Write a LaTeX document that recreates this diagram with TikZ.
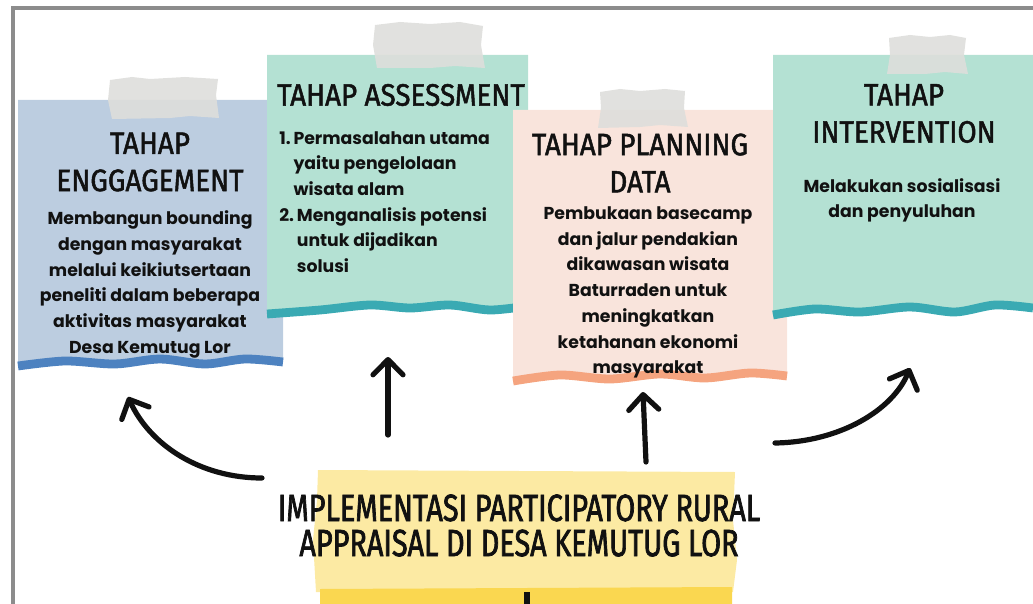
\documentclass[tikz,border=0pt]{standalone}
\usepackage{fontspec}
\setmainfont{Poppins}
\newfontfamily\headfont[FakeStretch=0.9, FakeBold=1.6]{Fira Sans}
\newfontfamily\bannerfont[FakeStretch=0.76, FakeBold=1.8]{Fira Sans}
\usetikzlibrary{positioning}
\usetikzlibrary{arrows.meta}

\definecolor{engfill}{HTML}{BCCDE0}
\definecolor{engline}{HTML}{4D82C0}
\definecolor{mintfill}{HTML}{B4E1D3}
\definecolor{mintline}{HTML}{3AAAB3}
\definecolor{pinkfill}{HTML}{F9E4DC}
\definecolor{pinkline}{HTML}{F5A47F}
\definecolor{bannerfill}{HTML}{FCEAA3}
\definecolor{bannerline}{HTML}{FAD750}
\definecolor{tapegray}{HTML}{DEDEDB}
\definecolor{framegray}{HTML}{8C8C8C}
\definecolor{ink}{HTML}{111111}

\begin{document}
\begin{tikzpicture}[
	x=0.25mm, y=-0.25mm,
	heading/.style={font=\headfont\fontsize{22}{26.5}\selectfont, align=center, inner sep=0pt, text=ink},
	body/.style={font=\bfseries\fontsize{12.3}{18.3}\selectfont, align=center, inner sep=0pt, text=ink},
	tape/.style={fill=tapegray, opacity=0.9},
	tear/.style={line width=2.2mm, line join=round},
	arrowline/.style={line width=1.3mm, line cap=round, ink, -{Straight Barb[round, length=3.8mm, width=7.5mm]}},
]
	\useasboundingbox (0,0) rectangle (1033,604);
	\draw[framegray, line width=0.9mm] (13,604) -- (13,8) -- (1033,8);

	% engagement
	\fill[engfill] (18,100) -- (283,100) -- plot[smooth] coordinates {(283,360) (245,357) (205,362) (160,357) (115,362) (65,359) (18,364)} -- cycle;
	\draw[tear, engline] plot[smooth] coordinates {(18,366) (65,361) (115,364) (160,359) (205,364) (245,359) (283,362)};
	\fill[tape] (110,80) -- (132,77) -- (150,79) -- (185,77) -- (218,79) -- (216,95) -- (219,118) -- (190,116) -- (170,118) -- (112,119) -- (108,100) -- cycle;
	\node[heading] (engh) at (150,162) {TAHAP\\ENGGAGEMENT};
	\node[body] (engb) at (150,284.5) {Membangun bounding\\dengan masyarakat\\melalui keikiutsertaan\\peneliti dalam beberapa\\aktivitas masyarakat\\Desa Kemutug Lor};

	% assessment
	\fill[mintfill] (267,55) -- (528,55) -- plot[smooth] coordinates {(528,304) (490,308) (450,303) (410,306) (370,303) (320,308) (267,312)} -- cycle;
	\draw[tear, mintline] plot[smooth] coordinates {(267,314) (320,310) (370,305) (410,308) (450,305) (490,310) (528,306)};
	\fill[tape] (375,25) -- (400,22) -- (430,24) -- (460,22) -- (483,26) -- (481,45) -- (485,68) -- (455,66) -- (430,68) -- (377,68) -- (373,45) -- cycle;
	\node[heading] (assh) at (401,95) {TAHAP ASSESSMENT};
	\node[body, align=left, anchor=west] (assb) at (279,202) {1.\,Permasalahan utama\\\phantom{1.\,}yaitu pengelolaan\\\phantom{1.\,}wisata alam\\2.\,Menganalisis potensi\\\phantom{2.\,}untuk dijadikan\\\phantom{2.\,}solusi};

	% planning
	\fill[pinkfill] (513,110) -- (787,110) -- plot[smooth] coordinates {(787,374) (750,371) (705,376) (660,372) (610,377) (560,373) (513,379)} -- cycle;
	\draw[tear, pinkline] plot[smooth] coordinates {(513,381) (560,375) (610,379) (660,374) (705,378) (750,373) (787,376)};
	\fill[tape] (600,92) -- (620,89) -- (640,91) -- (665,89) -- (685,91) -- (684,108) -- (688,127) -- (660,125) -- (640,127) -- (598,128) -- (601,108) -- cycle;
	\node[heading] (planh) at (640,163) {TAHAP PLANNING\\DATA};
	\node[body] (planb) at (648,292.5) {Pembukaan basecamp\\dan jalur pendakian\\dikawasan wisata\\Baturraden untuk\\meningkatkan\\ketahanan ekonomi\\masyarakat};

	% intervention
	\fill[mintfill] (773,55) -- (1033,55) -- plot[smooth] coordinates {(1033,306) (995,303) (955,310) (910,305) (860,310) (815,307) (773,313)} -- cycle;
	\draw[tear, mintline] plot[smooth] coordinates {(773,315) (815,309) (860,312) (910,307) (955,312) (995,305) (1033,308)};
	\fill[tape] (889,38) -- (910,35) -- (930,37) -- (950,35) -- (966,38) -- (964,55) -- (968,74) -- (945,72) -- (925,74) -- (887,74) -- (890,55) -- cycle;
	\node[heading] (inth) at (904,113.5) {TAHAP\\INTERVENTION};
	\node[body] (intb) at (902,200.5) {Melakukan sosialisasi\\dan penyuluhan};

	% banner
	\fill[bannerfill] (318,470) -- (520,471) -- (735,472) -- (733,520) -- (737,560) -- (733,592) -- (316,592) -- (313,540) -- (317,500) -- cycle;
	\fill[bannerline] (320,589) -- (732,587) -- (732,604) -- (320,604) -- cycle;
	\node[font=\bannerfont\fontsize{27}{25}\selectfont, align=center, inner sep=0pt, text=ink] (banner) at (519,525.5) {IMPLEMENTASI PARTICIPATORY RURAL\\APPRAISAL DI DESA KEMUTUG LOR};

	\coordinate (engtail) at (262,478);
	\coordinate (engtip) at (128,397);
	\coordinate (asstail) at (388,435);
	\coordinate (asstip) at (388,357);
	\coordinate (plantail) at (646,462);
	\coordinate (plantip) at (643,392);
	\coordinate (inttail) at (775,443);
	\coordinate (inttip) at (910,368);
	\coordinate (downstart) at (527,592);
	\coordinate (downend) at (527,610);

	\draw[arrowline] (engtail) .. controls (200,478) and (150,445) .. (engtip);
	\draw[arrowline] (asstail) -- (asstip);
	\draw[arrowline] (plantail) -- (plantip);
	\draw[arrowline] (inttail) .. controls (840,442) and (893,410) .. (inttip);
	\draw[line width=1.3mm, ink] (downstart) -- (downend);
\end{tikzpicture}
\end{document}
